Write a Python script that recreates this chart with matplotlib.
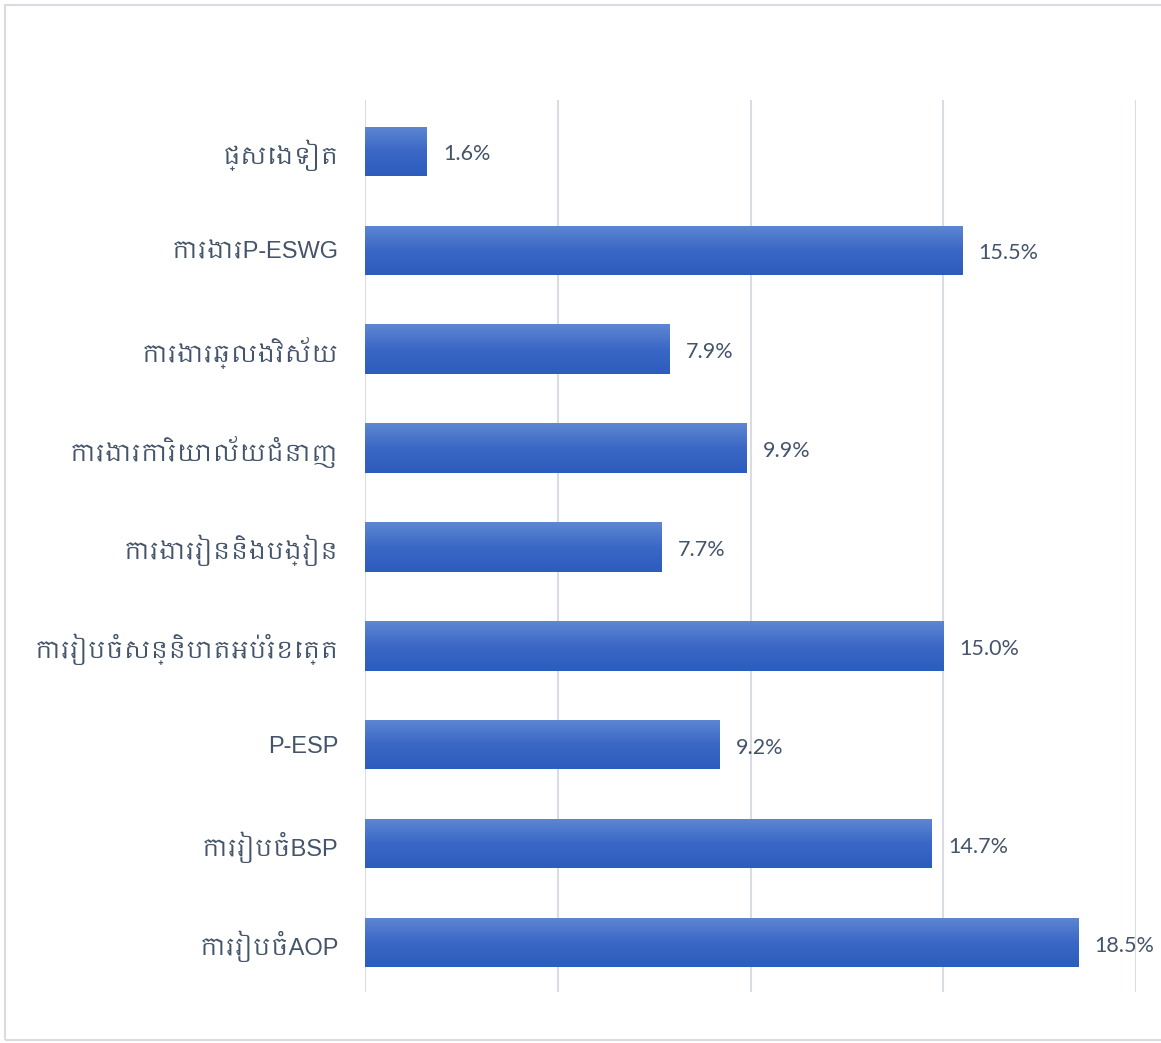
import numpy as np
import matplotlib
matplotlib.use('Agg')
import matplotlib.pyplot as plt
from matplotlib import font_manager as fm
from matplotlib.colors import LinearSegmentedColormap

categories = ['ផ្សេងទៀត', 'ការងារP-ESWG', 'ការងារឆ្លងវិស័យ', 'ការងារការិយាល័យជំនាញ',
              'ការងាររៀននិងបង្រៀន', 'ការរៀបចំសន្និបាតអប់រំខេត្ត', 'P-ESP',
              'ការរៀបចំBSP', 'ការរៀបចំAOP']
values = [1.6, 15.5, 7.9, 9.9, 7.7, 15.0, 9.2, 14.7, 18.5]
xticks = [0, 5, 10, 15, 20]

# khmer font, if one happens to be installed
khmer = [f.name for f in fm.fontManager.ttflist if 'khmer' in f.name.lower()]
label_fonts = khmer[:1] + ['Liberation Sans', 'DejaVu Sans']

txt_col = '#44546a'
grid_col = '#d9dde3'

fig = plt.figure(figsize=(11.61, 10.43), dpi=100)
ax = fig.add_axes([365 / 1161, 1 - 992 / 1043, (1136 - 365) / 1161, (992 - 100) / 1043])

y = np.arange(len(categories))
bars = ax.barh(y, values, height=0.5, color='#4472c4', zorder=2)

# vertical gradient on each bar
cmap = LinearSegmentedColormap.from_list('g', ['#5e86d2', '#3b68c6', '#2c5cbd'])
grad = np.linspace(0, 1, 64).reshape(-1, 1)
for b in bars:
    x0, y0 = b.get_x(), b.get_y()
    w, h = b.get_width(), b.get_height()
    im = ax.imshow(grad, cmap=cmap, aspect='auto', extent=[x0, x0 + w, y0 + h, y0],
                   origin='upper', zorder=3)
    im.set_clip_path(b)

for yi, v in zip(y, values):
    ax.text(v + 0.42, yi + 0.03, f'{v:.1f}%', va='center', ha='left', fontsize=15.5,
            color=txt_col, family=['Lato', 'DejaVu Sans'])

ax.set_xlim(0, 20)
ax.set_ylim(len(categories) - 0.5, -0.52)
ax.set_xticks(xticks)
ax.set_xticklabels([])
ax.tick_params(axis='x', length=0)
ax.set_yticks(y)
ax.set_yticklabels(categories, fontsize=17, color=txt_col, family=label_fonts)
ax.tick_params(axis='y', length=0, pad=19)
ax.grid(axis='x', color=grid_col, linewidth=1.5, zorder=0)
ax.set_axisbelow(True)
for s in ax.spines.values():
    s.set_visible(False)

# outer chart border
fig.add_artist(plt.Rectangle((5 / 1161, 1 - 1040 / 1043), 1.2, 1035 / 1043,
                             transform=fig.transFigure, fill=False,
                             edgecolor=grid_col, linewidth=1.5))

fig.savefig('out.png', dpi=100)
